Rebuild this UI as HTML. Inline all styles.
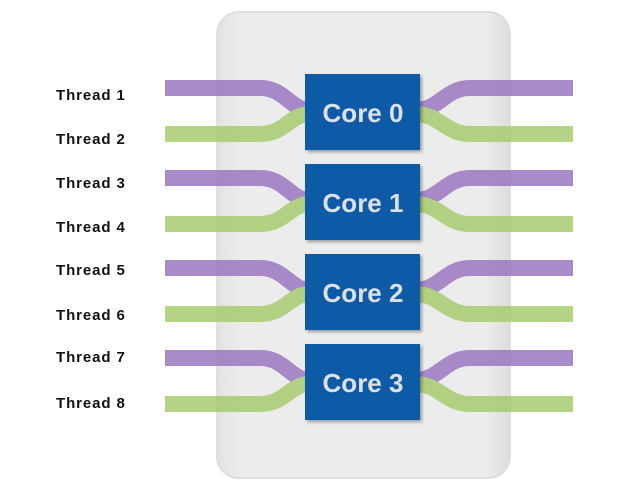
<!DOCTYPE html>
<html><head><style>
body{margin:0;background:#fff;width:624px;height:490px;overflow:hidden;font-family:"Liberation Sans",sans-serif}
</style></head><body>
<svg width="624" height="490" viewBox="0 0 624 490">
<defs>
<linearGradient id="g" x1="0" y1="0" x2="1" y2="0">
<stop offset="0" stop-color="#e2e2e2"/><stop offset="0.08" stop-color="#ececec"/><stop offset="0.92" stop-color="#ececec"/><stop offset="1" stop-color="#dcdcdc"/>
</linearGradient>
<filter id="s" x="-10%" y="-10%" width="130%" height="130%"><feDropShadow dx="2" dy="2" stdDeviation="1.5" flood-color="#000" flood-opacity="0.35"/></filter>
</defs>
<rect x="217" y="12" width="293" height="466" rx="22" fill="url(#g)" stroke="#dedede" stroke-width="2"/>
<g font-weight="bold" font-size="15" letter-spacing="0.9" fill="#111">
<text x="56" y="100">Thread 1</text><text x="56" y="144">Thread 2</text>
<text x="56" y="188">Thread 3</text><text x="56" y="232">Thread 4</text>
<text x="56" y="275">Thread 5</text><text x="56" y="320">Thread 6</text>
<text x="56" y="362">Thread 7</text><text x="56" y="408">Thread 8</text>
</g>
<g fill="none" stroke-width="16" opacity="0.85">
<g id="c">
<path d="M165 88 H260 C285 88 290 110 310 110" stroke="#9a78c0"/>
<path d="M165 134 H260 C285 134 290 114 310 114" stroke="#a8cc70"/>
<path d="M573 88 H470 C445 88 440 110 415 110" stroke="#9a78c0"/>
<path d="M573 134 H470 C445 134 440 114 415 114" stroke="#a8cc70"/>
</g>
<use href="#c" y="90"/><use href="#c" y="180"/><use href="#c" y="270"/>
</g>
<g filter="url(#s)" fill="#0c5aa6">
<rect x="305" y="74" width="115" height="76"/>
<rect x="305" y="164" width="115" height="76"/>
<rect x="305" y="254" width="115" height="76"/>
<rect x="305" y="344" width="115" height="76"/>
</g>
<g font-weight="bold" font-size="26" fill="#dde0e8" text-anchor="middle">
<text x="363" y="122">Core 0</text>
<text x="363" y="212">Core 1</text>
<text x="363" y="302">Core 2</text>
<text x="363" y="392">Core 3</text>
</g>
</svg>
</body></html>
